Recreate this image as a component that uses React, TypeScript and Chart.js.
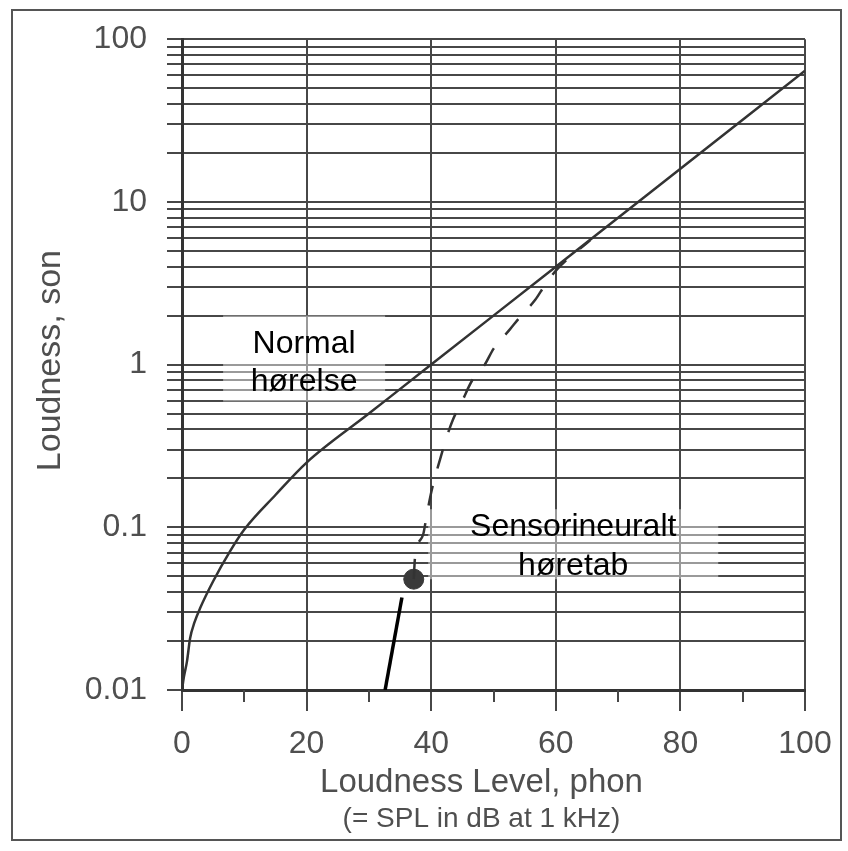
import { useEffect, useRef } from 'react';
import { Chart, registerables } from 'chart.js';

Chart.register(...registerables);

// ---- Data ----
const normalPhon = [0, 0.3, 0.8, 1.3, 2, 2.9, 5, 7.7, 10, 15, 20, 30, 40, 50, 60, 70, 80, 90, 100];
const normalSon = [0.01, 0.012, 0.015, 0.0208, 0.026, 0.0318, 0.0466, 0.0712, 0.097, 0.158, 0.25, 0.5, 1, 2, 4, 8, 16, 32, 64];

const lossPhon = [37.2, 37.4, 38.7, 39.3, 40.1, 41.4, 42.5, 43.5, 45, 46.5, 48.6, 50, 52.6, 54.3, 56.7, 58.3, 60.2, 65.5];
const lossSon = [0.048, 0.065, 0.09, 0.12, 0.17, 0.26, 0.36, 0.46, 0.6, 0.79, 1.0, 1.25, 1.64, 1.97, 2.5, 3.1, 3.85, 5.8];

const dotPhon = [37.2];
const dotSon = [0.048];

const pointerPhon = [32.6, 35.3];
const pointerSon = [0.01, 0.037];

const xTickLabels = ['0', '20', '40', '60', '80', '100'];
const yDecades = [0.01, 0.1, 1, 10, 100];
const yDecadeLabels = ['0.01', '0.1', '1', '10', '100'];
const ySteps = [1, 2, 3, 4, 5, 6, 7, 8, 9];

const yTitle = 'Loudness, son';
const xTitle = 'Loudness Level, phon';
const xSubtitle = '(= SPL in dB at 1 kHz)';

const normalLabel = ['Normal', 'hørelse'];
const normalLabelAt = [19.6, 1.09];
const lossLabel = ['Sensorineuralt', 'høretab'];
const lossLabelAt = [62.8, 0.0787];

const FONT = "'Liberation Sans', Arial, Helvetica, sans-serif";
const GRID = '#474747';
const TEXT = '#4f4f4f';

function buildYTicks() {
  const out: number[] = [];
  for (let d = 0; d < yDecades.length - 1; d++) {
    for (const s of ySteps) out.push(Number((yDecades[d] * s).toPrecision(3)));
  }
  out.push(yDecades[yDecades.length - 1]);
  return out;
}

const annotationPlugin = {
  id: 'annotationPlugin',
  beforeDraw(chart: any) {
    const ctx = chart.ctx;
    ctx.save();
    ctx.fillStyle = '#ffffff';
    ctx.fillRect(0, 0, chart.width, chart.height);
    ctx.restore();
  },
  beforeDatasetsDraw(chart: any) {
    const { ctx, scales } = chart;
    const x = scales.x, y = scales.y;
    const boxes = [
      { lines: normalLabel, at: normalLabelAt, w: 162, h: 86, base: [-6, 32] },
      { lines: lossLabel, at: lossLabelAt, w: 290, h: 70, base: [-8, 31] },
    ];
    ctx.save();
    for (const b of boxes) {
      const cx = x.getPixelForValue(b.at[0]);
      const cy = y.getPixelForValue(b.at[1]);
      ctx.fillStyle = 'rgba(255,255,255,0.45)';
      ctx.fillRect(cx - b.w / 2, cy - b.h / 2, b.w, b.h);
      ctx.fillStyle = '#000';
      ctx.font = `32px ${FONT}`;
      ctx.textAlign = 'center';
      ctx.textBaseline = 'alphabetic';
      b.lines.forEach((t, i) => ctx.fillText(t, cx, cy + b.base[i]));
    }
    ctx.restore();
  },
  afterDraw(chart: any) {
    const { ctx, scales, chartArea } = chart;
    const x = scales.x;
    ctx.save();
    // minor x tick marks
    ctx.strokeStyle = GRID;
    ctx.lineWidth = 2;
    for (let v = 10; v < 100; v += 20) {
      const px = Math.round(x.getPixelForValue(v));
      ctx.beginPath();
      ctx.moveTo(px, chartArea.bottom);
      ctx.lineTo(px, chartArea.bottom + 12);
      ctx.stroke();
    }
    // titles
    ctx.fillStyle = TEXT;
    ctx.textAlign = 'center';
    ctx.textBaseline = 'alphabetic';
    const midX = (chartArea.left + chartArea.right) / 2 - 12;
    ctx.font = `33px ${FONT}`;
    ctx.fillText(xTitle, midX, 792);
    ctx.font = `28px ${FONT}`;
    ctx.fillText(xSubtitle, midX, 827);
    ctx.save();
    ctx.translate(60, (chartArea.top + chartArea.bottom) / 2 - 4);
    ctx.rotate(-Math.PI / 2);
    ctx.font = `34px ${FONT}`;
    ctx.fillText(yTitle, 0, 0);
    ctx.restore();
    // outer frame
    ctx.strokeStyle = '#555';
    ctx.lineWidth = 2;
    ctx.strokeRect(12, 10, 829, 830);
    ctx.restore();
  },
};

export default function App() {
  const ref = useRef<HTMLCanvasElement | null>(null);

  useEffect(() => {
    document.body.style.margin = '0';
    const canvas = ref.current;
    if (!canvas) return;
    const yTicks = buildYTicks();
    const chart = new Chart(canvas, {
      type: 'line',
      data: {
        datasets: [
          {
            label: 'Normal hørelse',
            data: normalPhon.map((p, i) => ({ x: p, y: normalSon[i] })),
            borderColor: '#333',
            borderWidth: 2.5,
            pointRadius: 0,
            cubicInterpolationMode: 'monotone',
            fill: false,
          },
          {
            label: 'Sensorineuralt høretab',
            data: lossPhon.map((p, i) => ({ x: p, y: lossSon[i] })),
            borderColor: '#333',
            borderWidth: 2.5,
            borderDash: [20, 18],
            pointRadius: 0,
            cubicInterpolationMode: 'monotone',
            fill: false,
          },
          {
            label: 'dot',
            data: dotPhon.map((p, i) => ({ x: p, y: dotSon[i] })),
            showLine: false,
            pointRadius: 10,
            pointBackgroundColor: '#3a3a3a',
            pointBorderColor: '#3a3a3a',
          },
          {
            label: 'pointer',
            data: pointerPhon.map((p, i) => ({ x: p, y: pointerSon[i] })),
            borderColor: '#000',
            borderWidth: 3.5,
            pointRadius: 0,
            fill: false,
          },
        ],
      },
      options: {
        responsive: false,
        animation: false,
        layout: { padding: { top: 38, right: 43, left: 0, bottom: 0 } },
        plugins: { legend: { display: false }, tooltip: { enabled: false } },
        scales: {
          x: {
            type: 'linear',
            min: 0,
            max: 100,
            afterFit: (s: any) => { s.height = 161; },
            ticks: {
              stepSize: 10,
              autoSkip: false,
              maxRotation: 0,
              padding: 14,
              color: TEXT,
              font: { family: FONT, size: 32 },
              callback: (v: any) => {
                const n = Number(v);
                return n % 20 === 0 ? xTickLabels[n / 20] : '';
              },
            },
            grid: {
              color: (c: any) => (c.tick && c.tick.value % 20 === 0 ? GRID : 'rgba(0,0,0,0)'),
              tickColor: (c: any) => (c.tick && c.tick.value % 20 === 0 ? GRID : 'rgba(0,0,0,0)'),
              lineWidth: 2,
              tickLength: 21,
              tickWidth: 2,
            },
            border: { color: '#333', width: 3 },
          },
          y: {
            type: 'logarithmic',
            min: 0.01,
            max: 100,
            afterFit: (s: any) => { s.width = 182; },
            afterBuildTicks: (s: any) => { s.ticks = yTicks.map((v) => ({ value: v })); },
            ticks: {
              autoSkip: false,
              padding: 20,
              color: TEXT,
              font: { family: FONT, size: 32 },
              callback: (v: any) => {
                const n = Number(v);
                const idx = yDecades.findIndex((d) => Math.abs(Math.log10(d) - Math.log10(n)) < 1e-6);
                return idx >= 0 ? yDecadeLabels[idx] : '';
              },
            },
            grid: {
              color: GRID,
              lineWidth: 2,
              tickLength: 15,
              tickColor: GRID,
              tickWidth: 2,
            },
            border: { color: '#333', width: 3 },
          },
        },
      },
      plugins: [annotationPlugin],
    } as any);
    return () => chart.destroy();
  }, []);

  return <canvas ref={ref} width={848} height={851} style={{ display: 'block', width: 848, height: 851 }} />;
}
